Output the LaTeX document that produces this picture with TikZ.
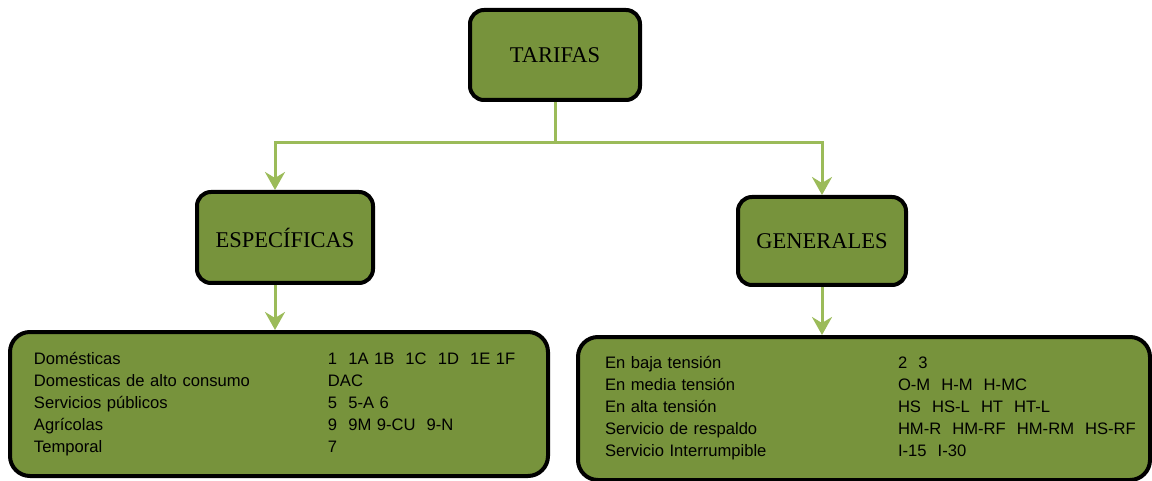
\documentclass[tikz,border=0pt]{standalone}
\usepackage{fontspec}
\setmainfont{Liberation Serif}
\newfontfamily\arialf{Liberation Sans}
\usetikzlibrary{arrows.meta}
\definecolor{olive}{HTML}{77933C}
\definecolor{lgreen}{HTML}{9BBB59}
\tikzset{
  box/.style={draw=black, line width=4pt, fill=olive, rounded corners=14pt, inner sep=0pt, font=\fontsize{22.5}{26}\selectfont},
  bigbox/.style={draw=black, line width=4pt, fill=olive, rounded corners=20pt, inner ysep=0pt, align=left},
  conn/.style={draw=lgreen, line width=3pt, -{Stealth[width=20pt,length=18pt,inset=6pt]}},
  plain/.style={draw=lgreen, line width=3pt}
}
\begin{document}
\begin{tikzpicture}[x=1pt,y=-1pt]
\useasboundingbox (0,0) rectangle (1152,481);
\node[box, minimum width=170pt, minimum height=90pt] (t) at (555,55) {TARIFAS};
\node[box, minimum width=176pt, minimum height=91pt] (e) at (285,237.5) {ESPECÍFICAS};
\node[box, minimum width=168pt, minimum height=88pt] (g) at (822,241) {GENERALES};
\node[bigbox, minimum width=538pt, minimum height=144pt, inner xsep=24pt, text width=490pt,
      font=\arialf\fontsize{16.6}{22}\selectfont] (l) at (279,404) {%
\begin{tabular}{@{}p{294pt}@{}l@{}}
Domésticas & 1\ \ 1A\ 1B\ \ 1C\ \ 1D\ \ 1E 1F\\
Domesticas de alto consumo & DAC\\
Servicios públicos & 5\ \ 5-A\ 6\\
Agrícolas & 9\ \ 9M\ 9-CU\ \ 9-N\\
Temporal & 7
\end{tabular}};
\node[bigbox, minimum width=572pt, minimum height=143pt, inner xsep=27pt, text width=518pt,
      font=\arialf\fontsize{16.6}{22}\selectfont] (r) at (864,408.5) {%
\begin{tabular}{@{}p{293pt}@{}l@{}}
En baja tensión & 2\ \ 3\\
En media tensión & O-M\ \ H-M\ \ H-MC\\
En alta tensión & HS\ \ HS-L\ \ HT\ \ HT-L\\
Servicio de respaldo & HM-R\ \ HM-RF\ \ HM-RM\ \ HS-RF\\
Servicio Interrumpible & I-15\ \ I-30
\end{tabular}};
\coordinate (j) at (555,143);
\draw[plain] (t.south) -- (j);
\draw[conn] (j) -| ([xshift=-10pt]e.north);
\draw[conn] (j) -| (g.north);
\draw[conn] ([xshift=-10pt]e.south) -- ([xshift=-4pt]l.north);
\draw[conn] (g.south) -- (r.north -| g.south);
\end{tikzpicture}
\end{document}
